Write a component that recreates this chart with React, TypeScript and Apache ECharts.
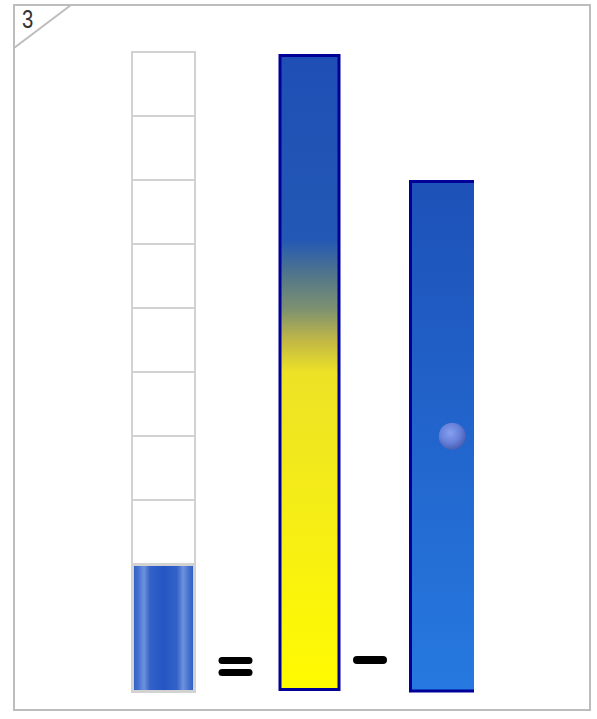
import React, { useEffect, useRef } from "react";
import * as echarts from "echarts";

// ---- data ----
const problemNumber = "3";
const unitCount = 10; // cells in the measuring column
const columnNames = ["part", "whole", "rest"];
const partValue = [2];
const wholeValue = [10];
const restValue = [8];
const markerValue = [4];

export default function App() {
  const ref = useRef<HTMLDivElement>(null);
  useEffect(() => {
    if (!ref.current) return;
    const chart = echarts.init(ref.current, null, { renderer: "svg" });
    const hiddenY = (gi: number, splitShow: boolean) => ({
      type: "value",
      gridIndex: gi,
      min: 0,
      max: unitCount,
      interval: 1,
      axisLine: { show: false },
      axisTick: { show: false },
      axisLabel: { show: false },
      splitLine: { show: splitShow, lineStyle: { color: "#d2d2d2", width: 2 } },
    });
    const hiddenX = (gi: number) => ({
      type: "category",
      gridIndex: gi,
      data: [columnNames[gi]],
      show: false,
    });
    const option: any = {
      animation: false,
      backgroundColor: "#ffffff",
      grid: [
        { left: 132, top: 52, width: 63, height: 640, show: true, borderColor: "#d2d2d2", borderWidth: 2, backgroundColor: "#ffffff" },
        { left: 278.5, top: 54, width: 62, height: 637 },
        { left: 410.5, top: 54, width: 63.5, height: 637 },
      ],
      xAxis: [hiddenX(0), hiddenX(1), hiddenX(2)],
      yAxis: [hiddenY(0, true), hiddenY(1, false), hiddenY(2, false)],
      series: [
        {
          type: "bar",
          xAxisIndex: 0,
          yAxisIndex: 0,
          data: partValue,
          barWidth: "100%",
          itemStyle: {
            color: new echarts.graphic.LinearGradient(0, 0, 1, 0, [
              { offset: 0, color: "#2c5cc4" },
              { offset: 0.1, color: "#4a76d2" },
              { offset: 0.18, color: "#6e92dc" },
              { offset: 0.28, color: "#3262c8" },
              { offset: 0.5, color: "#2555c2" },
              { offset: 0.72, color: "#3262c8" },
              { offset: 0.82, color: "#6e92dc" },
              { offset: 0.9, color: "#4a76d2" },
              { offset: 1, color: "#2c5cc4" },
            ]),
            borderColor: "#d2d2d2",
            borderWidth: 2,
          },
        },
        {
          type: "bar",
          xAxisIndex: 1,
          yAxisIndex: 1,
          data: wholeValue,
          barWidth: "100%",
          itemStyle: {
            color: new echarts.graphic.LinearGradient(0, 0, 0, 1, [
              { offset: 0, color: "#1f4fb5" },
              { offset: 0.29, color: "#2358b5" },
              { offset: 0.35, color: "#557888" },
              { offset: 0.4, color: "#7d9170" },
              { offset: 0.45, color: "#c2b845" },
              { offset: 0.5, color: "#ede226" },
              { offset: 1, color: "#fffb00" },
            ]),
            borderColor: "#000099",
            borderWidth: 3,
          },
        },
        {
          type: "custom",
          xAxisIndex: 2,
          yAxisIndex: 2,
          data: restValue.map((v, i) => [i, v]),
          renderItem: (params: any, api: any) => {
            const cs = params.coordSys;
            const top = api.coord([api.value(0), api.value(1)])[1];
            const bot = api.coord([api.value(0), 0])[1];
            const x = cs.x;
            const w = cs.width;
            return {
              type: "group",
              children: [
                {
                  type: "rect",
                  shape: { x, y: top, width: w, height: bot - top },
                  style: {
                    fill: new echarts.graphic.LinearGradient(0, 0, 0, 1, [
                      { offset: 0, color: "#1d51b8" },
                      { offset: 1, color: "#2679e0" },
                    ]),
                  },
                },
                {
                  type: "polyline",
                  shape: { points: [[x + w, top], [x, top], [x, bot], [x + w, bot]] },
                  style: { stroke: "#000099", lineWidth: 3, fill: "none" },
                },
              ],
            };
          },
        },
        {
          type: "scatter",
          xAxisIndex: 2,
          yAxisIndex: 2,
          data: markerValue.map((v) => [0, v]),
          symbol: "circle",
          symbolSize: 27,
          symbolOffset: [10, 0],
          z: 5,
          itemStyle: {
            color: new echarts.graphic.RadialGradient(0.42, 0.38, 0.65, [
              { offset: 0, color: "#9fb0f8" },
              { offset: 0.55, color: "#7a88de" },
              { offset: 1, color: "#4d59a8" },
            ]),
          },
        },
      ],
      graphic: [
        {
          type: "rect",
          shape: { x: 14, y: 5, width: 576, height: 705 },
          style: { fill: "none", stroke: "#bdbdbd", lineWidth: 2 },
          z: 10,
        },
        {
          type: "line",
          shape: { x1: 14, y1: 48, x2: 71, y2: 5 },
          style: { stroke: "#bdbdbd", lineWidth: 2 },
          z: 10,
        },
        {
          type: "text",
          x: 22,
          y: 6,
          scaleX: 0.78,
          style: {
            text: problemNumber,
            fontSize: 26,
            fontFamily: "Liberation Sans, sans-serif",
            fill: "#333333",
          },
          z: 10,
        },
        {
          type: "line",
          shape: { x1: 222, y1: 660.5, x2: 249, y2: 660.5 },
          style: { stroke: "#000000", lineWidth: 7, lineCap: "round" },
        },
        {
          type: "line",
          shape: { x1: 222, y1: 672.5, x2: 249, y2: 672.5 },
          style: { stroke: "#000000", lineWidth: 7, lineCap: "round" },
        },
        {
          type: "line",
          shape: { x1: 357, y1: 660, x2: 383, y2: 660 },
          style: { stroke: "#000000", lineWidth: 8, lineCap: "round" },
        },
      ],
    };
    chart.setOption(option);
    return () => chart.dispose();
  }, []);
  return (
    <div
      ref={ref}
      style={{ position: "fixed", left: 0, top: 0, width: 597, height: 719, background: "#fff" }}
    />
  );
}
